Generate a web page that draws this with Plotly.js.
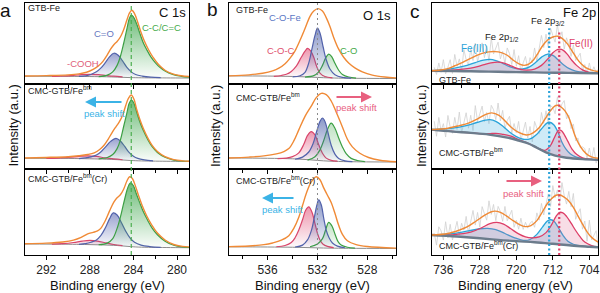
<!DOCTYPE html>
<html><head><meta charset="utf-8">
<script src="https://cdn.plot.ly/plotly-3.0.1.min.js"></script>
<style>html,body{margin:0;padding:0;background:#fff}#chart{width:600px;height:293px}</style>
</head><body><div id="chart"></div>
<script>
// ===== Panel a : C 1s  (binding energy eV, intensity a.u.) =====
const aBg1 = [[294,9.6],[290,9.4],[288,9.2],[286.5,8.9],[285.5,8.5],[284.5,8.0],[283.5,7.7],[281,7.5],[278.9,7.4]];
const aEnv1 = [[294,9.9],[292,10.4],[290,11.3],[289,12.5],[288.3,14.5],[287.7,18],[287.2,22.5],[286.8,28],[286.4,36],[286.1,43],[285.8,48.5],[285.5,52.5],[285.2,58],[284.9,67],[284.6,79],[284.35,88],[284.15,91],[283.9,87],[283.6,76],[283.3,63.5],[283,53],[282.6,42],[282.2,33],[281.7,24],[281.1,17],[280.4,12.5],[279.6,10.2],[278.9,9.2]];
const aCC1 = [[287.2,9.1],[286.4,11],[285.9,15],[285.5,23],[285.2,34],[284.9,50],[284.6,68],[284.4,80],[284.2,85],[284,83],[283.7,74],[283.4,62],[283.1,51],[282.8,43],[282.4,33.5],[282,26.5],[281.6,21],[281.1,16],[280.4,11.8],[279.6,9.5],[278.9,8.4]];
const aCO1 = [[289,9.3],[288.4,10],[287.9,11.8],[287.4,15],[287,19.5],[286.6,26],[286.2,33.5],[285.8,38],[285.4,35.5],[285,28.5],[284.6,20.5],[284.2,15],[283.8,11.8],[283.2,9.8],[282.4,8.4],[281.5,7.8]];
const aCOOH1 = [[291.5,9.5],[290.5,9.9],[289.5,10.7],[288.8,11.5],[288,12],[287.2,11.5],[286.5,10.5],[285.8,9.6],[285,8.9]];

const aBg2 = [[294,12.6],[290,12.4],[288,12.0],[286.5,11.5],[285.5,11],[284.5,10.2],[283.5,9.6],[281,9.1],[278.9,8.9]];
const aEnv2 = [[294,13],[292,13.6],[290,14.5],[289,15.6],[288.2,17],[287.6,19],[287.1,23],[286.7,28],[286.3,35.5],[286,42],[285.7,48],[285.3,55.5],[285,63],[284.7,75],[284.45,83.5],[284.2,87],[283.95,82],[283.7,70],[283.4,58],[283.1,48],[282.7,37],[282.3,28],[281.8,20.5],[281.1,14.5],[280.3,11],[279.5,9.6],[278.9,9.2]];
const aCC2 = [[287.2,12],[286.4,13.5],[285.9,17],[285.5,24],[285.2,34],[284.9,50],[284.6,66],[284.4,77],[284.2,81],[284,78.5],[283.7,67],[283.4,55],[283.1,45.5],[282.7,35],[282.3,26.5],[281.8,19.5],[281.1,13.8],[280.3,10.5],[279.5,9.3],[278.9,8.9]];
const aCO2 = [[289,12.3],[288.4,13],[287.9,14.3],[287.4,16.5],[287,20],[286.6,25.5],[286.1,32.5],[285.6,36],[285.2,33],[284.8,26.5],[284.4,19.5],[284,15],[283.6,12.5],[283,10.8],[282.2,9.6]];
const aCOOH2 = [[292,12.6],[291,12.9],[290,13.6],[289,14.8],[288.2,15.5],[287.4,14.8],[286.6,13.1],[285.8,11.8],[285,10.9]];

const aBg3 = [[294,12.8],[290,12.5],[288.5,12.2],[287,11.8],[285.5,11],[284.5,10],[283.5,9.2],[281,8.7],[278.9,8.5]];
const aEnv3 = [[294,13],[292,13.8],[290.5,15.2],[289.5,17.3],[288.8,20.5],[288.2,24.5],[287.7,26.3],[287.3,28],[287,31],[286.6,39.5],[286.2,51],[285.8,61.5],[285.5,66.5],[285.2,70],[284.9,76.5],[284.6,86],[284.35,91],[284.1,89],[283.8,79.5],[283.5,68],[283.2,57.5],[282.8,46],[282.3,34.5],[281.8,25.5],[281.1,17.5],[280.3,12.2],[279.5,10],[278.9,9.5]];
const aCC3 = [[287.2,11.9],[286.4,13.8],[285.9,19],[285.5,31],[285.2,44],[284.9,60],[284.6,75],[284.4,82],[284.25,84],[284,80.5],[283.7,70],[283.4,60],[283.1,50.5],[282.7,40.5],[282.3,31.5],[281.8,23.5],[281.1,16],[280.3,11.3],[279.5,9.3],[278.9,8.7]];
const aCO3 = [[289,12.4],[288.4,13.2],[287.9,14.8],[287.4,17.5],[287,22.5],[286.6,31],[286.2,42],[285.85,49],[285.5,46.5],[285.1,37.5],[284.7,27.5],[284.3,19.5],[283.9,14.8],[283.3,11.5],[282.5,9.8],[281.5,8.9]];
const aCOOH3 = [[291.5,12.6],[290.5,13.2],[289.5,14.5],[288.7,16.2],[288,17],[287.3,16.2],[286.5,14],[285.8,12.2],[285,11]];

// ===== Panel b : O 1s =====
const bBg1 = [[539.1,10],[536,9.8],[534,9.3],[533,8.8],[532,8.1],[531,7.5],[529.5,7.1],[525.7,6.8]];
const bEnv1 = [[539.1,10],[537.5,11.3],[536.4,13.3],[535.6,16.2],[535.1,19.5],[534.6,25],[534.2,32],[533.8,41],[533.4,54],[533,68.5],[532.6,83.5],[532.3,90],[531.96,93],[531.6,90],[531.3,82],[531,71],[530.7,57.5],[530.3,43],[529.9,33],[529.5,26],[529,20],[528.4,15],[527.6,11],[526.6,8.6],[525.7,7.6]];
const bCOFe1 = [[534,8.8],[533.4,10.2],[533,14.5],[532.7,26],[532.45,43],[532.2,60],[532,69],[531.8,63],[531.55,46],[531.3,30],[531,18.5],[530.6,11.5],[530,8.2],[529.3,7.3]];
const bCOC1 = [[535.5,9.5],[534.9,10.5],[534.5,12],[534.1,15.5],[533.7,22],[533.3,33],[533,40.5],[532.8,44],[532.55,41],[532.3,33],[532.05,21],[531.8,13.5],[531.4,9.2],[530.8,7.6]];
const bCO1 = [[533,8.6],[532.3,10.3],[531.9,15],[531.6,23],[531.35,32],[531.1,37],[530.85,33.5],[530.6,25.5],[530.3,17],[530,11.8],[529.5,8.6],[528.9,7.3]];

const bBg2 = [[539.1,13],[536,12.6],[534,12],[533,11.2],[532,10.1],[531,9.2],[529.5,8.6],[525.7,8.2]];
const bEnv2 = [[539.1,13],[537.5,14],[536.3,15.4],[535.3,17.8],[534.7,20.5],[534.3,24],[533.9,33],[533.5,46],[533,62],[532.5,74],[532.1,84],[531.7,89],[531.3,87.5],[530.9,80],[530.5,67],[530,49.5],[529.6,35],[529.2,26],[528.6,18.5],[527.9,13.5],[527,10.3],[525.7,8.5]];
const bCOC2 = [[535.2,12.2],[534.5,12.8],[534,14.5],[533.5,19],[533.1,29],[532.8,39.5],[532.5,44],[532.2,40],[531.9,28.5],[531.6,18.5],[531.3,12.8],[530.9,10.2],[530.4,9.2]];
const bCOFe2 = [[533.8,11.5],[533.2,14],[532.7,20],[532.35,30],[532.05,45],[531.8,56],[531.6,60],[531.4,56],[531.15,42.5],[530.9,28],[530.6,17.5],[530.3,12.3],[529.8,9.6],[529.2,8.7]];
const bCO2 = [[532.8,10.5],[532.2,14.5],[531.8,22.5],[531.5,33.5],[531.2,46.5],[530.9,54],[530.6,48],[530.3,36.5],[530,26],[529.7,18],[529.3,12.5],[528.8,10],[528.2,8.7]];

const bBg3 = [[539.1,9.5],[536,9.3],[534,9],[533,8.7],[532,8.3],[531,8],[529.5,7.8],[525.7,7.6]];
const bEnv3 = [[539.1,9.7],[537.5,10.5],[536.3,12],[535.6,14],[534.9,17.2],[534.3,22.5],[533.9,31],[533.5,44],[533.2,57.5],[532.9,71.5],[532.5,85],[532.1,91],[531.8,87.5],[531.5,78],[531.2,69.5],[530.9,61],[530.6,48.5],[530.3,34.5],[530,24],[529.6,16.5],[528.9,12],[528,9.8],[525.7,8]];
const bCOC3 = [[535.3,9.6],[534.6,11],[534.1,14.5],[533.8,20],[533.5,29],[533.2,41],[532.95,52],[532.7,56],[532.45,50],[532.2,36.5],[532,25],[531.8,17.5],[531.55,12.5],[531.2,10],[530.7,8.6]];
const bCOFe3 = [[533.8,9.3],[533.2,11.5],[532.8,17.5],[532.5,28],[532.25,44],[532.05,58],[531.9,64],[531.7,58.5],[531.5,43],[531.3,29],[531.05,19.5],[530.8,14],[530.4,10.3],[529.8,8.4]];
const bCO3 = [[532.6,9.6],[532,12.8],[531.6,19],[531.35,29],[531.1,38],[530.85,34],[530.6,24.5],[530.35,15.5],[530.1,11.5],[529.6,9],[529,8]];

// ===== Panel c : Fe 2p =====
// raw (noisy) spectra, read at 0.5 eV steps
const cRawE = [738,737.5,737,736.5,736,735.5,735,734.5,734,733.5,733,732.5,732,731.5,731,730.5,730,729.5,729,728.5,728,727.5,727,726.5,726,725.5,725,724.5,724,723.5,723,722.5,722,721.5,721,720.5,720,719.5,719,718.5,718,717.5,717,716.5,716,715.5,715,714.5,714,713.5,713,712.5,712,711.5,711,710.5,710,709.5,709,708.5,708,707.5,707,706.5,706,705.5,705,704.5,704,703.5,703,702.5,702];
const cRaw1 = [20.5,11.8,26,14.5,30,12.5,21,30,13,36.5,21.7,31,16,42.5,30,23.5,43,29,50.5,27,40,50.8,32.5,47.2,28.6,56.9,37,45,51.6,31,40.2,25,44.5,37.5,24,42.5,22,35,15,26.2,34,17.8,32.5,26,44.5,27.5,45,60,45,61.5,45,69,60,51.7,73,55,64.5,43,57,48.5,34,48.5,29,34,38,16.5,24,13,26,13,21.3,13.8,18.5];
const cRaw2 = [56.2,38.5,60.7,45,53.3,37.6,63,49.5,42,60.7,46.4,67,42.7,55.4,66.2,48,63.2,45.3,74.6,56,65.5,74,55.5,66.5,53.3,74.9,69.8,58,77.6,56.5,69,47.5,57,62,42.5,53.5,42.7,56,33.8,45.8,55.1,36.3,50,32,56,48,41.5,66.5,53.5,68.5,53.5,74.5,72.5,65,85,69,76.5,80.5,59,63.5,47.5,53,33,36.5,25,26,24,12.5,24.6,11.3,25.3,6.9,14.6];
const cRaw3 = [25.2,11.5,32.8,28.1,17.4,38.7,20,35.7,17.5,30.3,39.1,23,36.9,28.9,44.9,25.6,40,51.8,34.8,49.5,32.3,56.2,48,40.5,63,47.2,58.8,40,56.5,50.5,39.2,56.5,39.8,47,52,32.2,40.5,30,42.8,29.8,38,31.3,37,39.3,32.2,49,40.5,60,46.5,59,71,56.5,80.7,66.7,75.7,60,84.2,68.8,59.2,74,56,71.5,41.5,48.5,53.8,30,39.5,16,40.5,17.5,23,28.3,7];

const cBg1 = [[738.6,16.2],[734,16],[730,15.7],[726,15.3],[722,14.9],[718,14.5],[714,14.1],[710,13.8],[706,13.5],[702.1,13.2]];
const cEnv1 = [[738.6,16.3],[737,17],[735,19],[733.5,22.5],[732,26],[730.5,30.5],[729,34.5],[727.5,37.8],[726,39.6],[724.7,40],[723.3,38.8],[722,35.5],[720.7,29.5],[719.3,24.5],[718.3,23],[717.3,24.5],[716.2,30],[715.2,38.5],[714.2,47.5],[713.2,54],[712,58],[710.9,59],[709.9,56],[708.8,49.5],[707.8,41],[706.8,32],[705.8,25],[704.7,20],[703.5,17.2],[702.1,15.5]];
const cFe3a = [[738.6,16.2],[735,18],[731.5,22],[729,26.5],[727.2,29.5],[725.8,30.5],[724.5,29],[723,25.5],[721.5,21.5],[720,19],[718.6,18.6],[717.2,20.8],[715.8,26.5],[714.4,33.5],[713.1,37],[711.9,35],[710.8,29.5],[709.6,23.5],[708.5,19.3],[707,16],[705,14.2],[702.1,13.3]];
const cFe2a = [[738.6,16.2],[734,17],[730,19.5],[727.3,23.5],[725.6,26],[724.1,27],[722.5,25.5],[721,22],[719.5,18.7],[717.6,17.2],[716,18.5],[714.5,23],[713.1,31],[712,38.5],[711.2,42],[710.5,43],[709.7,41.5],[708.8,36.5],[707.8,29],[706.8,23],[705.5,17.5],[704,14.5],[702.1,13.4]];

const cBg2 = [[738.6,46.3],[734,44],[730,42.5],[726,40.5],[722,37],[719.5,33.5],[717.4,30],[715.5,25],[713.5,19.5],[711.5,15.8],[709,13.3],[705.5,11.6],[702.1,10.8]];
const cEnv2 = [[738.6,46.3],[735,48],[732.5,51],[730.5,54],[728.5,59],[727,63.5],[725.4,66],[723.8,63],[722.3,55.5],[721,48.5],[719.5,43],[717.8,40],[716.5,42],[715,48.5],[713.8,58],[712.6,68],[711.6,74],[711,75],[710.2,73],[709.3,68],[708.5,60.5],[707.8,50],[707.2,40],[706.3,29.5],[705.3,21.5],[704.2,16],[703,13.3],[702.1,12.6]];
const cFe3b = [[738.6,46.3],[734,48],[731,51],[728.5,55],[726.8,57.5],[725.8,58],[724.5,56],[723,50.5],[721.5,43.5],[720,38],[718.5,35],[717,35.5],[715.5,41],[714.2,49],[713.3,54],[712.7,55],[711.8,52],[710.8,42.5],[710,31.5],[709.2,24],[708.2,18],[707,14.3],[705,12],[702.1,10.9]];
const cFe2b = [[738.6,46.3],[732,43.3],[728,41.7],[726,41.5],[724.5,42],[723,40.8],[721,38.3],[719.5,34.5],[717.4,30.2],[715.5,25.2],[713.8,22],[712.6,27],[711.7,36.5],[711,44],[710.6,46],[710.1,45],[709.5,40.5],[708.7,32.5],[707.8,23.5],[706.8,17.3],[705.5,13.2],[703.5,11.4],[702.1,10.8]];

const cBg3 = [[738.6,23.2],[733,21.5],[728,19.5],[724,17.6],[720,16.1],[716,14.8],[712,13],[708,11],[704,9.6],[702.1,9]];
const cEnv3 = [[738.6,23.2],[735,25],[732.5,29],[730.7,33],[728.8,39.5],[727,46],[725.6,50],[724.7,51],[723.5,49.5],[722.2,45.5],[721,41],[719.5,36],[718,33],[716.8,34.2],[715.5,40],[714.3,50],[713.3,59],[712.3,65.5],[711.3,69.5],[710.6,70],[709.7,68],[708.7,64],[707.5,55.5],[706.5,45.5],[705.5,36],[704.5,27],[703.5,20.5],[702.1,15]];
const cFe3c = [[738.6,23.2],[734,24.8],[730.5,28],[728,30.5],[726.3,31],[724.5,29.5],[722.5,25],[720.5,20.3],[718.5,17],[717,18],[715.5,24],[714.2,33],[713.2,39.5],[712.6,41],[711.8,39.5],[710.8,32],[709.8,23],[708.7,16],[707.5,12.5],[705,10],[702.1,9]];
const cFe2c = [[738.6,23.2],[734,23.5],[730,26.5],[727.5,32],[725.8,36.5],[724.3,38],[722.8,36],[721.2,30.5],[719.5,24.5],[718,21],[716.5,20],[715,21],[713.5,26],[712.3,35],[711.3,45],[710.5,49.5],[709.8,49],[709,45],[708,37],[707,28.5],[706,21],[705,15],[703.5,11],[702.1,9.3]];

// reference peak positions (eV)
const aRef = [284.2];
const bRef = [532.0];
const cRef = [712.8, 710.6];

// axis ticks
const aTicks = [292,288,284,280], aMinor = [290,286,282];
const bTicks = [536,532,528], bMinor = [538,534,530,526];
const cTicks = [736,728,720,712,704], cMinor = [732,724,716,708];
const aRange = [294.0, 278.9], bRange = [539.1, 525.7], cRange = [738.6, 702.1];

// ===== build =====
const FONT = 'Liberation Sans, Arial, Helvetica, sans-serif';
const ORANGE = '#f08a36', GREEN = '#3c9f44', BLUE = '#5262ab', RED = '#d9466b', GRAY = '#8c8c8c';
const CYAN = '#2aa3d9', CRED = '#dd3e67', SLATE = '#6c7c8c';

function ax(n){ return n===1 ? '' : String(n); }
function tr(pts, n, color, width, extra){
  return Object.assign({type:'scatter', mode:'lines', x:pts.map(p=>p[0]), y:pts.map(p=>p[1]),
    xaxis:'x'+ax(n), yaxis:'y'+ax(n), line:{color:color, width:width, shape:'spline', smoothing:1},
    hoverinfo:'skip', showlegend:false}, extra||{});
}
function peak(pts, n, color, rgb, alpha){
  return tr(pts, n, color, 1.2, {fill:'toself', fillcolor:'rgba('+rgb+',0.25)',
    fillgradient:{type:'vertical', colorscale:[[0,'rgba('+rgb+',0.02)'],[1,'rgba('+rgb+','+alpha+')']]}});
}
const data = [];
// panel a
[[aBg1,aCOOH1,aCO1,aCC1,aEnv1],[aBg2,aCOOH2,aCO2,aCC2,aEnv2],[aBg3,aCOOH3,aCO3,aCC3,aEnv3]].forEach((s,i)=>{
  const n = i+1;
  data.push(tr(s[0], n, GRAY, 1));
  data.push(peak(s[1], n, RED, '225,90,125', 0.35));
  data.push(peak(s[2], n, BLUE, '85,100,175', 0.6));
  data.push(peak(s[3], n, GREEN, '60,165,75', 0.75));
  data.push(tr(s[4], n, ORANGE, 1.4));
});
// panel b
[[bBg1,bCOC1,bCO1,bCOFe1,bEnv1],[bBg2,bCOC2,bCO2,bCOFe2,bEnv2],[bBg3,bCOC3,bCO3,bCOFe3,bEnv3]].forEach((s,i)=>{
  const n = i+4;
  data.push(tr(s[0], n, GRAY, 1));
  data.push(peak(s[1], n, RED, '225,80,120', 0.6));
  data.push(peak(s[2], n, GREEN, '70,170,80', 0.35));
  data.push(peak(s[3], n, BLUE, '75,95,170', 0.65));
  data.push(tr(s[4], n, ORANGE, 1.4));
});
// panel c
[[cRaw1,cBg1,cFe3a,cFe2a,cEnv1],[cRaw2,cBg2,cFe3b,cFe2b,cEnv2],[cRaw3,cBg3,cFe3c,cFe2c,cEnv3]].forEach((s,i)=>{
  const n = i+7;
  data.push({type:'scatter', mode:'lines', x:cRawE, y:s[0], xaxis:'x'+n, yaxis:'y'+n,
    line:{color:'#d0d0d0', width:0.8}, hoverinfo:'skip', showlegend:false});
  data.push(tr(s[1], n, 'rgba(0,0,0,0)', 0));
  data.push(tr(s[2], n, CYAN, 1.3, {fill:'tonexty', fillcolor:'rgba(80,180,225,0.28)'}));
  data.push(tr(s[1], n, 'rgba(0,0,0,0)', 0));
  data.push(tr(s[3], n, CRED, 1.3, {fill:'tonexty', fillcolor:'rgba(225,100,140,0.22)'}));
  data.push(tr(s[1], n, SLATE, 2.4));
  data.push(tr(s[4], n, ORANGE, 1.4));
});

const layout = {width:600, height:293, margin:{l:0,r:0,t:3,b:38}, paper_bgcolor:'#fff', plot_bgcolor:'rgba(0,0,0,0)',
  showlegend:false, font:{family:FONT, color:'#222'}, shapes:[], annotations:[]};
const xDom = [[24.5/600,189/600],[229/600,396/600],[431.5/600,598/600]];
const yDom = [[171/252,1],[86/252,171/252],[0,86/252]];
const ranges = [aRange,bRange,cRange], ticks=[aTicks,bTicks,cTicks], minors=[aMinor,bMinor,cMinor];
for (let p=0;p<3;p++) for (let r=0;r<3;r++){
  const n = p*3+r+1;
  layout['xaxis'+ax(n)] = {domain:xDom[p], anchor:'y'+ax(n), range:ranges[p], autorange:false,
    tickmode:'array', tickvals:ticks[p], ticks:'outside', ticklen:3.5, tickwidth:1, tickcolor:'#000',
    minor:{tickmode:'array', tickvals:minors[p], ticks:'outside', ticklen:2.5, tickwidth:1, tickcolor:'#000'},
    showticklabels:r===2, tickfont:{size:12, color:'#222', family:FONT},
    showline:true, linecolor:'#000', linewidth:1, mirror:true, showgrid:false, zeroline:false, fixedrange:true};
  layout['yaxis'+ax(n)] = {domain:yDom[r], anchor:'x'+ax(n), range:[0,100], showline:true, linecolor:'#000',
    linewidth:1, mirror:true, ticks:'', showticklabels:false, showgrid:false, zeroline:false, fixedrange:true};
}
// reference lines
layout.shapes.push({type:'line', xref:'x', yref:'paper', x0:aRef[0], x1:aRef[0], y0:0, y1:1,
  line:{color:'#4cae50', width:1.2, dash:'4px,3px'}});
layout.shapes.push({type:'line', xref:'x4', yref:'paper', x0:bRef[0], x1:bRef[0], y0:0, y1:1,
  line:{color:'#8a8a8a', width:1, dash:'2px,3px'}});
layout.shapes.push({type:'line', xref:'x7', yref:'paper', x0:cRef[0], x1:cRef[0], y0:0, y1:0.9,
  line:{color:CYAN, width:2.2, dash:'2px,2.5px'}});
layout.shapes.push({type:'line', xref:'x7', yref:'paper', x0:cRef[1], x1:cRef[1], y0:0, y1:0.89,
  line:{color:CRED, width:2.2, dash:'2px,2.5px'}});

// text
function A(text, px, py, size, color, opts){
  return Object.assign({text:text, x:px/600, y:(255-py)/252, xref:'paper', yref:'paper', showarrow:false,
    xanchor:'center', yanchor:'middle', font:{size:size, color:color||'#222', family:FONT}}, opts||{});
}
function arrow(hx, tx, py, color){
  return {text:'', x:hx/600, y:(255-py)/252, xref:'paper', yref:'paper', ax:tx-hx, ay:0,
    showarrow:true, arrowhead:2, arrowsize:1.1, arrowwidth:2, arrowcolor:color, standoff:0, startstandoff:0};
}
const L = {xanchor:'left'};
const PINK = '#e8607f', SKY = '#3bb3e6';
layout.annotations.push(
  A('a', 5, 10, 19, '#111'), A('b', 212, 9, 19, '#111'), A('c', 415, 11, 19, '#111'),
  A('GTB-Fe', 26, 8, 9, '#222', L), A('CMC-GTB/Fe<sup>bm</sup>', 26, 90, 9, '#222', L), A('CMC-GTB/Fe<sup>bm</sup>(Cr)', 26, 178, 9, '#222', L),
  A('GTB-Fe', 234, 10, 9, '#222', L), A('CMC-GTB/Fe<sup>bm</sup>', 234, 97, 9, '#222', L), A('CMC-GTB/Fe<sup>bm</sup>(Cr)', 234, 180, 9, '#222', L),
  A('GTB-Fe', 437, 80, 9, '#222', L), A('CMC-GTB/Fe<sup>bm</sup>', 437, 152, 9, '#222', L), A('CMC-GTB/Fe<sup>bm</sup>(Cr)', 437, 245, 9, '#222', L),
  A('C 1s', 188, 13, 13, '#111', {xanchor:'right'}), A('O 1s', 393, 15, 13, '#111', {xanchor:'right'}), A('Fe 2p', 598, 13, 13, '#111', {xanchor:'right'}),
  A('C=O', 104, 33, 9.5, '#6677c0'), A('-COOH', 83, 63, 9.5, '#e0607a'), A('C-C/C=C', 161, 28, 9.5, '#45aa4a'),
  A('C-O-Fe', 285, 17, 9.5, '#5a76c4'), A('C-O-C', 281, 50, 9.5, '#e0506e'), A('C-O', 348, 50, 9.5, '#45aa4a'),
  A('Fe 2p<sub>1/2</sub>', 502, 37, 9.5, '#222'), A('Fe 2p<sub>3/2</sub>', 548, 21, 9.5, '#222'),
  A('Fe(III)', 474, 48, 10, CYAN), A('Fe(II)', 581, 43, 10, CRED),
  A('peak shift', 104, 113, 9.5, SKY), A('peak shift', 356, 107, 9.5, PINK), A('peak shift', 282, 209, 9.5, SKY), A('peak shift', 523, 193, 9.5, PINK),
  arrow(85, 123, 102, SKY), arrow(372, 335, 97, PINK), arrow(262, 295, 198, SKY), arrow(542, 505, 181, PINK),
  A('Binding energy (eV)', 107, 285, 13, '#111'), A('Binding energy (eV)', 312.5, 285, 13, '#111'), A('Binding energy (eV)', 515, 285, 13, '#111'),
  A('Intensity (a.u.)', 12.5, 126, 13, '#111', {textangle:-90}), A('Intensity (a.u.)', 215, 126, 13, '#111', {textangle:-90}), A('Intensity (a.u.)', 421, 126, 13, '#111', {textangle:-90})
);

Plotly.newPlot('chart', data, layout, {staticPlot:true, displayModeBar:false});
</script>
</body></html>
